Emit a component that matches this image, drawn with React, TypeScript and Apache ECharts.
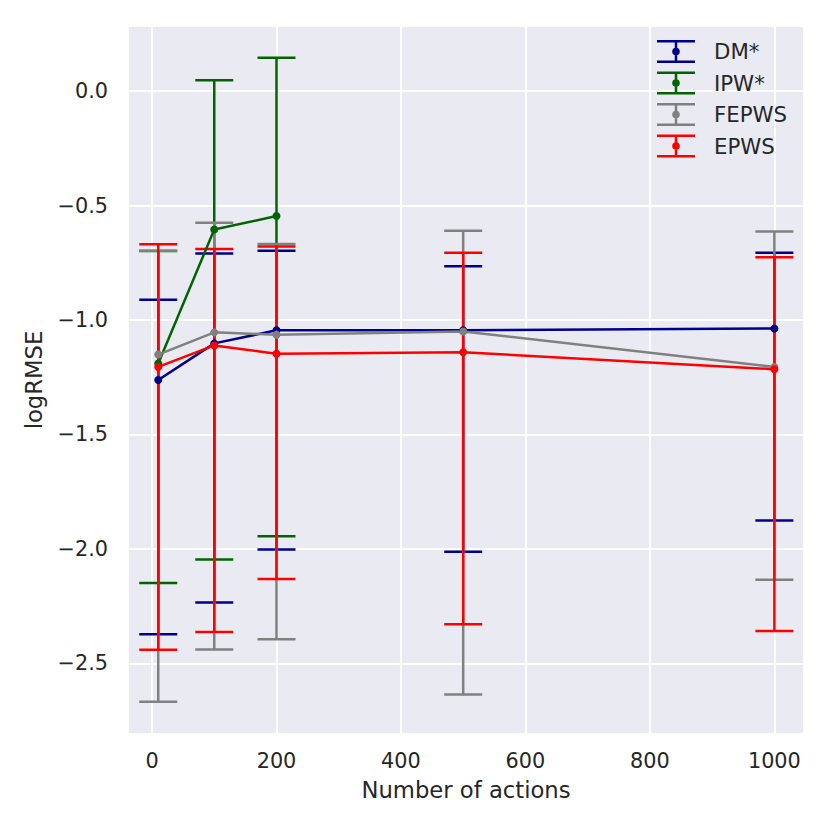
import React, { useEffect, useRef } from "react";
import * as echarts from "echarts";

// x positions (number of actions)
const actions = [10, 100, 200, 500, 1000];
const ipwActions = [10, 100, 200];

// DM*
const dmMean = [-1.262, -1.102, -1.045, -1.045, -1.037];
const dmLow = [-2.372, -2.234, -2.002, -2.012, -1.876];
const dmHigh = [-0.912, -0.710, -0.698, -0.765, -0.706];

// IPW*
const ipwMean = [-1.19, -0.605, -0.546];
const ipwLow = [-2.149, -2.046, -1.944];
const ipwHigh = [-0.699, 0.047, 0.145];

// FEPWS
const fepwsMean = [-1.151, -1.054, -1.064, -1.050, -1.205];
const fepwsLow = [-2.667, -2.439, -2.394, -2.635, -2.134];
const fepwsHigh = [-0.697, -0.575, -0.668, -0.610, -0.614];

// EPWS
const epwsMean = [-1.205, -1.111, -1.147, -1.141, -1.215];
const epwsLow = [-2.440, -2.363, -2.131, -2.329, -2.358];
const epwsHigh = [-0.669, -0.690, -0.679, -0.706, -0.726];

const seriesDefs = [
  { name: "DM*", color: "#00008b", xs: actions, mean: dmMean, low: dmLow, high: dmHigh },
  { name: "IPW*", color: "#006400", xs: ipwActions, mean: ipwMean, low: ipwLow, high: ipwHigh },
  { name: "FEPWS", color: "#808080", xs: actions, mean: fepwsMean, low: fepwsLow, high: fepwsHigh },
  { name: "EPWS", color: "#ff0000", xs: actions, mean: epwsMean, low: epwsLow, high: epwsHigh },
];

const TEXT = "#262626";
const FONT = "DejaVu Sans";
const LW = 2.5;
const CAP_HALF = 19;

const legendIcon =
  "path://M0,0H38V2.5H0Z M0,20.5H38V23H0Z M17.75,0H20.25V23H17.75Z " +
  "M22.8,11.5A3.8,3.8,0,1,1,15.2,11.5A3.8,3.8,0,1,1,22.8,11.5Z M52,11.5Z";

function fmtY(v: number): string {
  const k = Math.round(v / 0.5);
  if (Math.abs(v - k * 0.5) > 1e-6) return "";
  if (k === 0) return "0.0";
  const s = Math.abs(v).toFixed(1);
  return v < 0 ? "\u2212" + s : s;
}

function fmtX(v: number): string {
  const k = Math.round(v / 200);
  if (Math.abs(v - k * 200) > 1e-6) return "";
  return String(k * 200);
}

export default function App() {
  const ref = useRef<HTMLDivElement>(null);

  useEffect(() => {
    if (!ref.current) return;
    const chart = echarts.init(ref.current, undefined, { renderer: "svg" });

    const errSeries = seriesDefs.map((s) => ({
      type: "custom",
      name: s.name + " err",
      z: 2,
      silent: true,
      encode: { x: 0, y: [1, 2] },
      data: s.xs.map((x, i) => [x, s.low[i], s.high[i]]),
      renderItem: (params: any, api: any) => {
        const x = api.value(0);
        const lo = api.coord([x, api.value(1)]);
        const hi = api.coord([x, api.value(2)]);
        const style = { stroke: s.color, lineWidth: LW, fill: "none" };
        return {
          type: "group",
          children: [
            { type: "line", shape: { x1: hi[0], y1: hi[1], x2: lo[0], y2: lo[1] }, style },
            { type: "line", shape: { x1: hi[0] - CAP_HALF, y1: hi[1], x2: hi[0] + CAP_HALF, y2: hi[1] }, style },
            { type: "line", shape: { x1: lo[0] - CAP_HALF, y1: lo[1], x2: lo[0] + CAP_HALF, y2: lo[1] }, style },
          ],
        };
      },
    }));

    const lineSeries = seriesDefs.map((s) => ({
      type: "line",
      name: s.name,
      z: 3,
      data: s.xs.map((x, i) => [x, s.mean[i]]),
      symbol: "circle",
      symbolSize: 8,
      showSymbol: true,
      lineStyle: { color: s.color, width: LW },
      itemStyle: { color: s.color, borderWidth: 0 },
      emphasis: { disabled: true },
    }));

    chart.setOption({
      animation: false,
      backgroundColor: "#ffffff",
      textStyle: { fontFamily: FONT, color: TEXT },
      grid: {
        left: 128,
        right: 26,
        top: 26,
        bottom: 96,
        show: true,
        backgroundColor: "#EAEAF2",
        borderWidth: 0,
        containLabel: false,
      },
      legend: {
        orient: "vertical",
        left: 657,
        top: 40,
        padding: 0,
        itemWidth: 52,
        itemHeight: 23,
        itemGap: 8.5,
        icon: legendIcon,
        itemStyle: { borderWidth: 0 },
        textStyle: { fontFamily: FONT, fontSize: 21.3, color: TEXT },
        data: seriesDefs.map((s) => ({ name: s.name, icon: legendIcon })),
        selectedMode: false,
      },
      xAxis: {
        type: "value",
        min: -38.6,
        max: 1047.6,
        splitNumber: 5,
        name: "Number of actions",
        nameLocation: "middle",
        nameGap: 44,
        nameTextStyle: { fontFamily: FONT, fontSize: 22.7, color: TEXT },
        axisLine: { show: false },
        axisTick: { show: false },
        axisLabel: { formatter: fmtX, margin: 16, fontFamily: FONT, fontSize: 20.8, color: TEXT },
        splitLine: { show: true, lineStyle: { color: "#ffffff", width: 1.8 } },
      },
      yAxis: {
        type: "value",
        min: -2.808,
        max: 0.284,
        splitNumber: 6,
        name: "logRMSE",
        nameLocation: "middle",
        nameGap: 83,
        nameRotate: 90,
        nameTextStyle: { fontFamily: FONT, fontSize: 22.7, color: TEXT },
        axisLine: { show: false },
        axisTick: { show: false },
        axisLabel: { formatter: fmtY, margin: 20, fontFamily: FONT, fontSize: 20.8, color: TEXT },
        splitLine: { show: true, lineStyle: { color: "#ffffff", width: 1.8 } },
      },
      series: [...errSeries, ...lineSeries],
    });

    return () => chart.dispose();
  }, []);

  return (
    <div
      ref={ref}
      style={{ position: "fixed", left: 0, top: 0, width: 830, height: 830, background: "#fff" }}
    />
  );
}
